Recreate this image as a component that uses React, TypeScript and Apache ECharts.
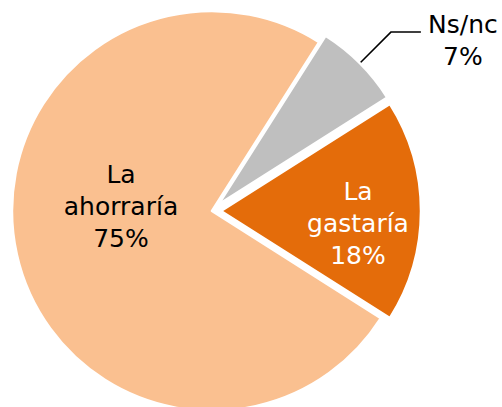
import React, { useEffect, useRef } from "react";
import * as echarts from "echarts";

const categories = ["Ns/nc", "La gastaría", "La ahorraría"];
const values = [7, 18, 75];
const colors = ["#BFBFBF", "#E46C0A", "#FAC090"];
const labelColors = ["#000000", "#FFFFFF", "#000000"];

export default function App() {
  const ref = useRef<HTMLDivElement>(null);
  useEffect(() => {
    if (!ref.current) return;
    const chart = echarts.init(ref.current, undefined, { renderer: "svg" });
    const font = "'DejaVu Sans', sans-serif";
    const txt = (color: string) => ({ fontSize: 25, lineHeight: 32, fontFamily: font, color });
    chart.setOption({
      animation: false,
      backgroundColor: "#FFFFFF",
      series: [
        {
          type: "pie",
          center: [212, 211],
          radius: 200,
          startAngle: 57.6,
          clockwise: true,
          selectedMode: "multiple",
          selectedOffset: 9,
          avoidLabelOverlap: false,
          emphasis: { disabled: true },
          itemStyle: { borderColor: "#FFFFFF", borderWidth: 2.5 },
          data: categories.map((name, i) => ({
            name,
            value: values[i],
            selected: i < 2,
            itemStyle: { color: colors[i] },
            label:
              i === 0
                ? {
                    show: true,
                    position: "outside",
                    formatter: "{a|{b}}\n{a|{d}%}",
                    padding: [16, 0, 0, 0],
                    rich: { a: { width: 74, align: "center", ...txt(labelColors[i]) } },
                  }
                : i === 1
                ? {
                    show: true,
                    position: "inside",
                    formatter: "{s|}\n{a|La}\n{a|gastaría}\n{a|{d}%}",
                    padding: [0, 0, 0, 68],
                    rich: {
                      s: { lineHeight: 24, fontSize: 1 },
                      a: { width: 110, align: "center", ...txt(labelColors[i]) },
                    },
                  }
                : {
                    show: true,
                    position: "inside",
                    formatter: "La\nahorraría\n{d}%",
                    align: "center",
                    ...txt(labelColors[i]),
                  },
            labelLine:
              i === 0
                ? { show: true, length: 44, length2: 30, lineStyle: { color: "#000000", width: 1.5 } }
                : { show: false },
          })),
          labelLayout: (p: any) => {
            if (p.dataIndex === 2) return { x: 121, y: 206, align: "center", verticalAlign: "middle" };
            return {};
          },
        },
      ],
    });
    return () => chart.dispose();
  }, []);
  return (
    <div
      ref={ref}
      style={{ position: "fixed", left: 0, top: 0, width: 502, height: 407 }}
    />
  );
}
